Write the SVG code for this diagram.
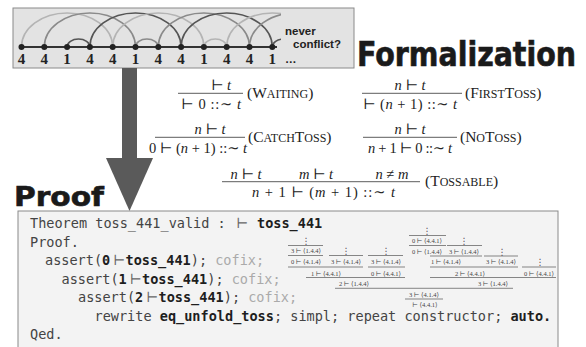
<svg xmlns="http://www.w3.org/2000/svg" width="586" height="347" viewBox="0 0 586 347">
<defs>
<style>
.box1{fill:#e3e3e3;stroke:#8a8a8a;stroke-width:1}
.box2{fill:#f3f3f3;stroke:#8a8a8a;stroke-width:1}
.arcA{fill:none;stroke:#b4b4b4;stroke-width:1.6}
.arcB{fill:none;stroke:#8a8a8a;stroke-width:1.6}
.arcC{fill:none;stroke:#555;stroke-width:1.6}
.dig{font-family:"Liberation Serif",serif;font-weight:bold;font-size:15px;fill:#222;text-anchor:middle}
.note{font-family:"Liberation Sans",sans-serif;font-weight:bold;font-size:11.5px;fill:#222}
.head{font-family:"DejaVu Sans",sans-serif;font-weight:bold;fill:#1a1a1a;stroke:#1a1a1a;stroke-width:0.6}
.m{font-family:"Liberation Serif","DejaVu Serif",serif;font-size:14.5px;fill:#222}
.lb{font-family:"Liberation Serif","DejaVu Serif",serif;font-size:15.5px;fill:#222}
.i{font-style:italic}
.sc{font-size:12px}
.rl{stroke:#333;stroke-width:0.8}
.code{font-family:"DejaVu Sans Mono",monospace;font-size:13.55px;fill:#444}
.b{font-weight:bold;fill:#1e1e1e}
.g{fill:#aaa}
.ts{font-family:"DejaVu Serif",serif;font-size:14px;fill:#666}
.pt{font-family:"Liberation Serif","DejaVu Serif",serif;font-size:6.5px;fill:#444;text-anchor:middle}
.vd{font-family:"DejaVu Sans",sans-serif;font-size:9px;fill:#555;text-anchor:middle}
.pl{stroke:#555;stroke-width:0.7}
</style>
<clipPath id="clipArcs"><rect x="13" y="8" width="268" height="60"/></clipPath>
</defs>

<g id="juggling-panel">
<rect class="box1" x="13" y="8" width="341" height="60"/>
<g clip-path="url(#clipArcs)">
<path class="arcA" d="M21.5 47 A45.6 34 0 0 1 112.7 47"/>
<path class="arcB" d="M44.3 47 A45.6 34 0 0 1 135.5 47"/>
<path class="arcC" d="M67.1 47 A11.4 8 0 0 1 89.9 47"/>
<path class="arcC" d="M89.9 47 A45.6 34 0 0 1 181.1 47"/>
<path class="arcA" d="M112.7 47 A45.6 34 0 0 1 203.9 47"/>
<path class="arcB" d="M135.5 47 A11.4 8 0 0 1 158.3 47"/>
<path class="arcB" d="M158.3 47 A45.6 34 0 0 1 249.5 47"/>
<path class="arcC" d="M181.1 47 A45.6 34 0 0 1 272.3 47"/>
<path class="arcA" d="M203.9 47 A11.4 8 0 0 1 226.7 47"/>
<path class="arcA" d="M226.7 47 A45.6 34 0 0 1 317.9 47"/>
<path class="arcB" d="M249.5 47 A45.6 34 0 0 1 340.7 47"/>
<path class="arcC" d="M272.3 47 A11.4 8 0 0 1 295.1 47"/>
</g>
<path d="M21.5 47 H277" stroke="#333" stroke-width="2"/>
<g fill="#222">
<circle cx="21.5" cy="47" r="3"/><circle cx="44.3" cy="47" r="3"/><circle cx="67.1" cy="47" r="3"/>
<circle cx="89.9" cy="47" r="3"/><circle cx="112.7" cy="47" r="3"/><circle cx="135.5" cy="47" r="3"/>
<circle cx="158.3" cy="47" r="3"/><circle cx="181.1" cy="47" r="3"/><circle cx="203.9" cy="47" r="3"/>
<circle cx="226.7" cy="47" r="3"/><circle cx="249.5" cy="47" r="3"/><circle cx="272.3" cy="47" r="3"/>
</g>
<text class="dig" x="21.5" y="64">4</text><text class="dig" x="44.3" y="64">4</text><text class="dig" x="67.1" y="64">1</text>
<text class="dig" x="89.9" y="64">4</text><text class="dig" x="112.7" y="64">4</text><text class="dig" x="135.5" y="64">1</text>
<text class="dig" x="158.3" y="64">4</text><text class="dig" x="181.1" y="64">4</text><text class="dig" x="203.9" y="64">1</text>
<text class="dig" x="226.7" y="64">4</text><text class="dig" x="249.5" y="64">4</text><text class="dig" x="272.3" y="64">1</text>
<text class="note" x="285" y="63" font-weight="normal">…</text>
<text class="note" x="285" y="35">never</text>
<text class="note" x="293" y="47.5">conflict?</text>
</g>

<text id="title-formalization" class="head" transform="translate(357,66) scale(1,1.12)" x="0" y="0" font-size="29.5" textLength="219" lengthAdjust="spacingAndGlyphs">Formalization</text>
<text id="title-proof" class="head" x="14" y="206" font-size="27" textLength="90" lengthAdjust="spacingAndGlyphs">Proof</text>

<g id="arrow">
<rect x="122" y="68" width="15" height="92" fill="#5a5a5a"/>
<polygon points="106,158 153,158 129.5,211" fill="#5a5a5a"/>
</g>

<g id="rule-waiting">
<text class="m" x="221" y="90" text-anchor="middle">⊢ <tspan class="i">t</tspan></text>
<line class="rl" x1="178" y1="93.3" x2="243" y2="93.3"/>
<text class="m" x="211" y="108.5" text-anchor="middle" textLength="60" lengthAdjust="spacing">⊢ 0 ::∼ <tspan class="i">t</tspan></text>
<text class="lb" x="247" y="97.5">(W<tspan class="sc">AITING</tspan>)</text>
</g>
<g id="rule-firsttoss">
<text class="m" x="410" y="90" text-anchor="middle"><tspan class="i">n</tspan> ⊢ <tspan class="i">t</tspan></text>
<line class="rl" x1="362" y1="93.3" x2="462" y2="93.3"/>
<text class="m" x="410" y="108.5" text-anchor="middle" textLength="94" lengthAdjust="spacing">⊢ (<tspan class="i">n</tspan> + 1) ::∼ <tspan class="i">t</tspan></text>
<text class="lb" x="465" y="97.5">(F<tspan class="sc">IRST</tspan>T<tspan class="sc">OSS</tspan>)</text>
</g>
<g id="rule-catchtoss">
<text class="m" x="210" y="134" text-anchor="middle"><tspan class="i">n</tspan> ⊢ <tspan class="i">t</tspan></text>
<line class="rl" x1="155" y1="137.3" x2="245" y2="137.3"/>
<text class="m" x="198" y="152.5" text-anchor="middle" font-size="13.6">0 ⊢ (<tspan class="i">n</tspan> + 1) ::∼ <tspan class="i">t</tspan></text>
<text class="lb" x="248" y="141.5">(C<tspan class="sc">ATCH</tspan>T<tspan class="sc">OSS</tspan>)</text>
</g>
<g id="rule-notoss">
<text class="m" x="410" y="134" text-anchor="middle"><tspan class="i">n</tspan> ⊢ <tspan class="i">t</tspan></text>
<line class="rl" x1="363" y1="137.3" x2="457" y2="137.3"/>
<text class="m" x="410" y="152.5" text-anchor="middle" textLength="84" lengthAdjust="spacing"><tspan class="i">n</tspan> + 1 ⊢ 0 ::∼ <tspan class="i">t</tspan></text>
<text class="lb" x="460" y="141.5">(N<tspan class="sc">O</tspan>T<tspan class="sc">OSS</tspan>)</text>
</g>
<g id="rule-tossable">
<text class="m" x="246" y="178.5" text-anchor="middle"><tspan class="i">n</tspan> ⊢ <tspan class="i">t</tspan></text>
<text class="m" x="316" y="178.5" text-anchor="middle"><tspan class="i">m</tspan> ⊢ <tspan class="i">t</tspan></text>
<text class="m" x="392" y="178.5" text-anchor="middle"><tspan class="i">n</tspan> ≠ <tspan class="i">m</tspan></text>
<line class="rl" x1="222" y1="181.7" x2="420" y2="181.7"/>
<text class="m" x="323.5" y="197" text-anchor="middle" textLength="143" lengthAdjust="spacing"><tspan class="i">n</tspan> + 1 ⊢ (<tspan class="i">m</tspan> + 1) ::∼ <tspan class="i">t</tspan></text>
<text class="lb" x="425" y="185.5">(T<tspan class="sc">OSSABLE</tspan>)</text>
</g>

<g id="proof-panel">
<rect class="box2" x="18" y="211" width="540" height="140"/>
<text class="code" x="30" y="228">Theorem toss_441_valid :</text>
<text class="ts" x="236" y="228">⊢</text>
<text class="code b" x="257" y="228">toss_441</text>
<text class="code" x="30" y="246.5">Proof.</text>
<text class="code" x="45" y="265">assert(<tspan class="b">0</tspan></text>
<text class="ts" x="113" y="265">⊢</text>
<text class="code" x="125.5" y="265"><tspan class="b">toss_441</tspan>); <tspan class="g">cofix;</tspan></text>
<text class="code" x="61.5" y="283.5">assert(<tspan class="b">1</tspan></text>
<text class="ts" x="129.5" y="283.5">⊢</text>
<text class="code" x="142" y="283.5"><tspan class="b">toss_441</tspan>); <tspan class="g">cofix;</tspan></text>
<text class="code" x="78" y="302">assert(<tspan class="b">2</tspan></text>
<text class="ts" x="146" y="302">⊢</text>
<text class="code" x="158.5" y="302"><tspan class="b">toss_441</tspan>); <tspan class="g">cofix;</tspan></text>
<text class="code" x="94.5" y="320.5">rewrite <tspan class="b">eq_unfold_toss</tspan>; simpl; repeat constructor; <tspan class="b">auto.</tspan></text>
<text class="code" x="30" y="339">Qed.</text>
</g>

<g id="proof-tree">
<g class="pl">
<line x1="288" y1="245.5" x2="323" y2="245.5"/>
<line x1="288" y1="255.5" x2="323" y2="255.5"/>
<line x1="329" y1="255.5" x2="363" y2="255.5"/>
<line x1="368" y1="255.5" x2="403" y2="255.5"/>
<line x1="288" y1="267" x2="363" y2="267"/>
<line x1="368" y1="267" x2="405" y2="267"/>
<line x1="306" y1="277.5" x2="405" y2="277.5"/>
<line x1="409" y1="235.5" x2="446" y2="235.5"/>
<line x1="409" y1="245.5" x2="446" y2="245.5"/>
<line x1="447" y1="245.5" x2="482" y2="245.5"/>
<line x1="430" y1="256" x2="482" y2="256"/>
<line x1="484" y1="256" x2="518" y2="256"/>
<line x1="430" y1="267" x2="518" y2="267"/>
<line x1="522" y1="267" x2="556" y2="267"/>
<line x1="430" y1="277.5" x2="556" y2="277.5"/>
<line x1="335" y1="288.3" x2="513" y2="288.3"/>
<line x1="405" y1="299" x2="443" y2="299"/>
</g>
<text class="vd" x="306" y="243.5">⋮</text>
<text class="vd" x="346" y="254">⋮</text>
<text class="vd" x="386" y="254">⋮</text>
<text class="vd" x="427" y="234">⋮</text>
<text class="vd" x="464" y="244">⋮</text>
<text class="vd" x="502" y="254.5">⋮</text>
<text class="vd" x="540" y="265">⋮</text>
<text class="pt" x="306" y="253">3 ⊢ ⟨1.4.4⟩</text>
<text class="pt" x="306" y="264">0 ⊢ ⟨4.1.4⟩</text>
<text class="pt" x="346" y="264">3 ⊢ ⟨4.1.4⟩</text>
<text class="pt" x="386" y="264">3 ⊢ ⟨4.1.4⟩</text>
<text class="pt" x="326" y="275.5">1 ⊢ ⟨4.4.1⟩</text>
<text class="pt" x="386" y="275.5">0 ⊢ ⟨4.4.1⟩</text>
<text class="pt" x="354" y="286">2 ⊢ ⟨1.4.4⟩</text>
<text class="pt" x="427" y="243">0 ⊢ ⟨4.4.1⟩</text>
<text class="pt" x="427" y="253.5">0 ⊢ ⟨1.4.4⟩</text>
<text class="pt" x="464" y="253.5">3 ⊢ ⟨1.4.4⟩</text>
<text class="pt" x="446" y="264">1 ⊢ ⟨4.1.4⟩</text>
<text class="pt" x="501" y="264">3 ⊢ ⟨4.1.4⟩</text>
<text class="pt" x="470" y="275.5">2 ⊢ ⟨4.4.1⟩</text>
<text class="pt" x="539" y="275.5">0 ⊢ ⟨4.4.1⟩</text>
<text class="pt" x="493" y="286">3 ⊢ ⟨1.4.4⟩</text>
<text class="pt" x="424" y="296.5">3 ⊢ ⟨4.1.4⟩</text>
<text class="pt" x="425" y="307">⊢ ⟨4.4.1⟩</text>
</g>
</svg>
